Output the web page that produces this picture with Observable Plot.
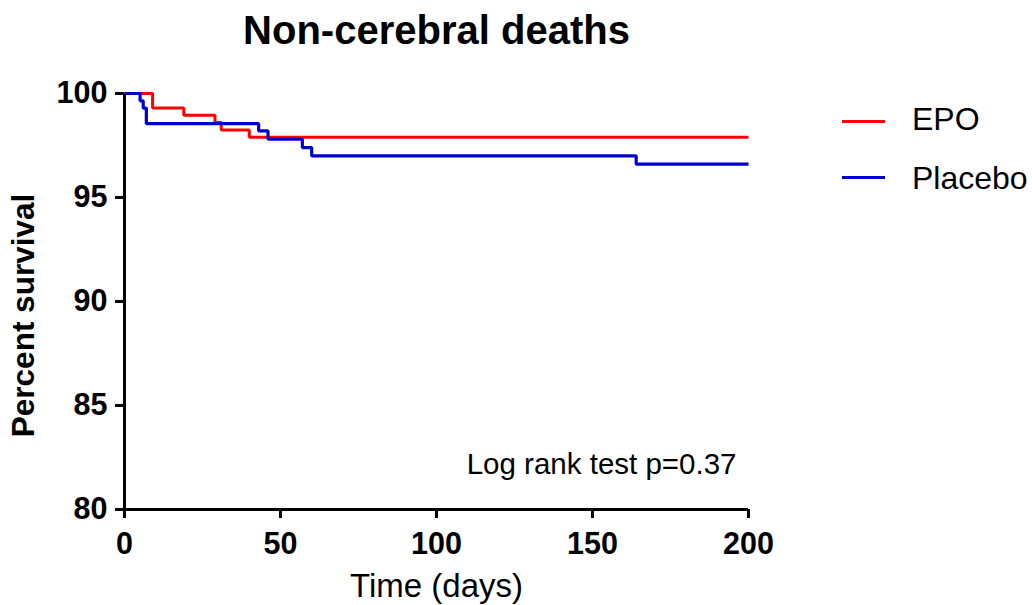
<!DOCTYPE html>
<html>
<head>
<meta charset="utf-8">
<script src="https://cdn.jsdelivr.net/npm/d3@7"></script>
<script src="https://cdn.jsdelivr.net/npm/@observablehq/plot@0.6"></script>
<style>
  html, body { margin: 0; padding: 0; background: #fff; }
  #wrap { position: relative; width: 1032px; height: 605px; font-family: "Liberation Sans", Arial, sans-serif; }
  .leg-line { position: absolute; height: 3px; width: 43px; left: 842px; }
  .leg-text { position: absolute; left: 912px; font-size: 32px; line-height: 40px; color: #000; white-space: nowrap; }
</style>
</head>
<body>
<div id="wrap"></div>
<script>
// ---- data ----
const titleText = "Non-cerebral deaths";
const xLabel = "Time (days)";
const yLabel = "Percent survival";
const annotation = "Log rank test p=0.37";
const seriesNames = ["EPO", "Placebo"];
const seriesColors = ["#ff0000", "#0000c8"];
const xDomain = [0, 200];
const yDomain = [80, 100];
const xTicks = [0, 50, 100, 150, 200];
const yTicks = [80, 85, 90, 95, 100];
const epoDays = [0, 9, 19, 29, 31, 40, 200];
const epoSurv = [100, 99.3, 98.95, 98.6, 98.25, 97.9, 97.9];
const placeboDays = [0, 5, 6, 7, 43, 46, 57, 60, 164, 200];
const placeboSurv = [100, 99.65, 99.3, 98.55, 98.2, 97.8, 97.4, 97.0, 96.6, 96.6];

const epo = epoDays.map((d, i) => ({day: d, surv: epoSurv[i], group: seriesNames[0]}));
const placebo = placeboDays.map((d, i) => ({day: d, surv: placeboSurv[i], group: seriesNames[1]}));

const font = '"Liberation Sans", Arial, sans-serif';

const chart = Plot.plot({
  width: 1032,
  height: 605,
  marginLeft: 124,
  marginRight: 284,
  marginTop: 93,
  marginBottom: 96,
  style: {fontFamily: font, color: "#000", background: "#fff", overflow: "visible"},
  x: {domain: xDomain},
  y: {domain: yDomain},
  marks: [
    Plot.axisX({ticks: xTicks, tickSize: 9, tickPadding: 14, strokeWidth: 3, fontSize: 30.5, fontWeight: "bold", label: null, tickFormat: d => String(d)}),
    Plot.axisY({ticks: yTicks, tickSize: 9, tickPadding: 8, strokeWidth: 3, fontSize: 30.5, fontWeight: "bold", label: null, tickFormat: d => String(d)}),
    Plot.ruleX([xDomain[0]], {y1: yDomain[0], y2: yDomain[1], strokeWidth: 3, stroke: "#000"}),
    Plot.ruleY([yDomain[0]], {x1: xDomain[0], x2: xDomain[1], strokeWidth: 3, stroke: "#000"}),
    Plot.line(epo, {x: "day", y: "surv", curve: "step-after", stroke: seriesColors[0], strokeWidth: 3, strokeLinejoin: "miter", strokeLinecap: "butt"}),
    Plot.line(placebo, {x: "day", y: "surv", curve: "step-after", stroke: seriesColors[1], strokeWidth: 3.2, strokeLinejoin: "miter", strokeLinecap: "butt"}),
    Plot.text([titleText], {text: d => d, frameAnchor: "top", textAnchor: "middle", dy: -62, lineAnchor: "middle", fontSize: 40, fontWeight: "bold", fill: "#000"}),
    Plot.text([xLabel], {text: d => d, frameAnchor: "bottom", textAnchor: "middle", dy: 77, lineAnchor: "middle", fontSize: 33, fill: "#000"}),
    Plot.text([yLabel], {text: d => d, frameAnchor: "left", textAnchor: "middle", dx: -101, dy: 14, rotate: -90, lineAnchor: "middle", fontSize: 31.5, fontWeight: "bold", fill: "#000"}),
    Plot.text([annotation], {text: d => d, frameAnchor: "bottom-right", textAnchor: "end", dx: -12, dy: -45, lineAnchor: "middle", fontSize: 29.5, fill: "#000"})
  ]
});

const wrap = document.getElementById("wrap");
wrap.appendChild(chart);

// legend (HTML, built from the series arrays)
const legLineY = [119.5, 176];
const legTextTop = [98.6, 157.6];
seriesNames.forEach((name, i) => {
  const ln = document.createElement("div");
  ln.className = "leg-line";
  ln.style.top = legLineY[i] + "px";
  ln.style.background = seriesColors[i];
  wrap.appendChild(ln);
  const tx = document.createElement("div");
  tx.className = "leg-text";
  tx.style.top = legTextTop[i] + "px";
  tx.textContent = name;
  wrap.appendChild(tx);
});
</script>
</body>
</html>
